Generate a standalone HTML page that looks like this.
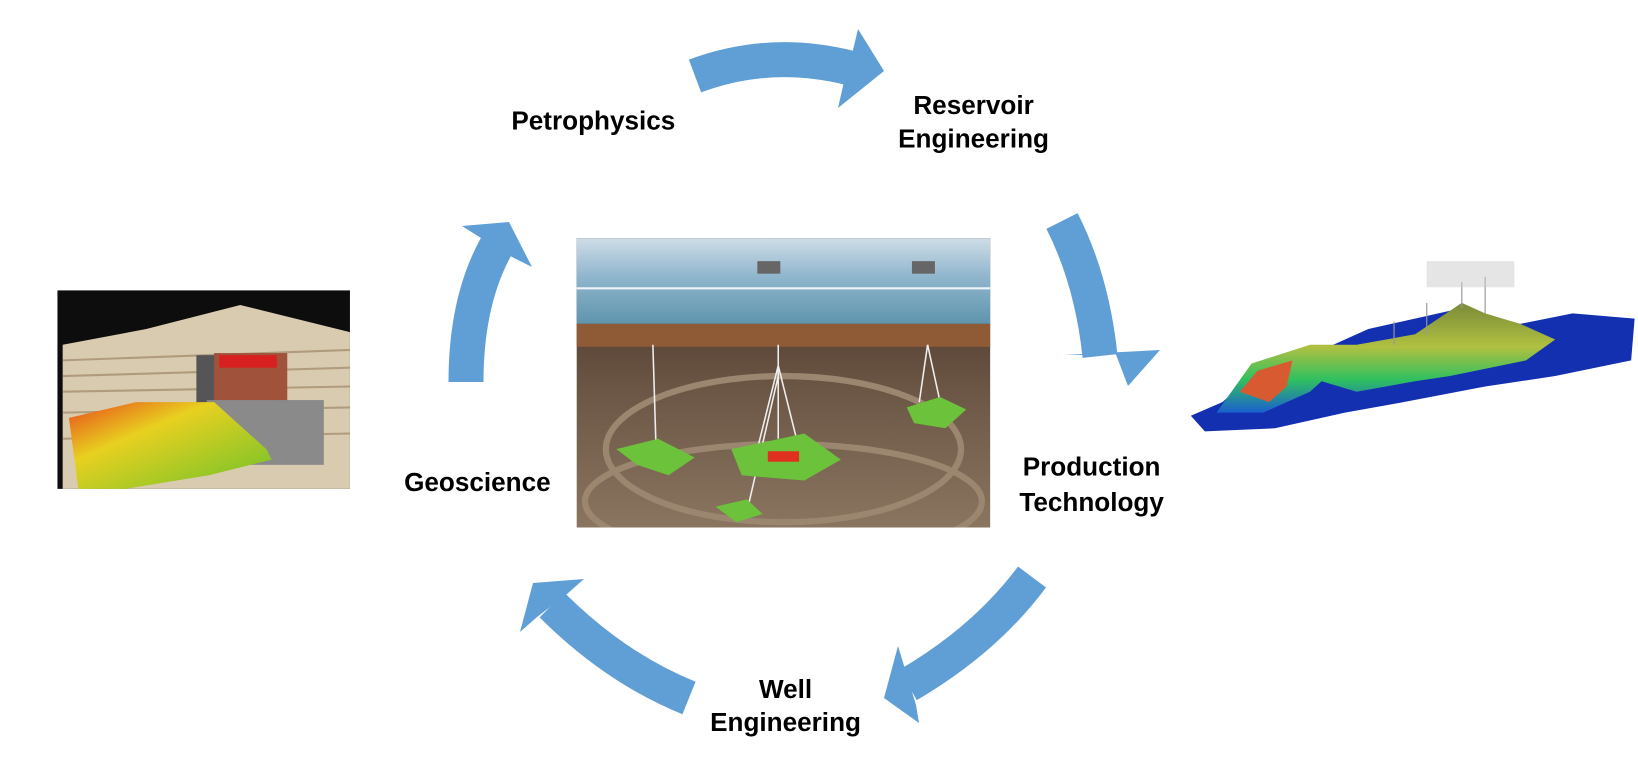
<!DOCTYPE html>
<html><head><meta charset="utf-8"><style>
html,body{margin:0;padding:0;background:#fff;}
svg{display:block;}
text{font-family:"Liberation Sans",Arial,sans-serif;font-weight:bold;font-size:25px;fill:#000;}
</style></head><body>
<svg width="1638" height="782" viewBox="0 0 1638 782">
<defs>
<linearGradient id="sea" x1="0" y1="0" x2="0" y2="1"><stop offset="0" stop-color="#cfdde8"/><stop offset="0.45" stop-color="#8fb6cc"/><stop offset="1" stop-color="#5f95ad"/></linearGradient>
<linearGradient id="under" x1="0" y1="0" x2="0" y2="1"><stop offset="0" stop-color="#3a2a1e"/><stop offset="0.5" stop-color="#6a5444"/><stop offset="1" stop-color="#8a7560"/></linearGradient>
<linearGradient id="terrL" x1="0" y1="0" x2="1" y2="1"><stop offset="0" stop-color="#e84a1a"/><stop offset="0.35" stop-color="#e8d020"/><stop offset="1" stop-color="#6ac22a"/></linearGradient>
<linearGradient id="terrR" x1="0" y1="0" x2="0" y2="1"><stop offset="0" stop-color="#7a8a3a"/><stop offset="0.4" stop-color="#b0c040"/><stop offset="0.7" stop-color="#30c060"/><stop offset="1" stop-color="#1a60d0"/></linearGradient>
<clipPath id="cc"><rect x="552" y="228" width="396" height="277"/></clipPath>
</defs>

<g fill="none" stroke="#5f9fd6" stroke-width="35">
<path d="M695,76 Q770,48 850,68"/>
<path d="M1062,221 Q1092,280 1100,356"/>
<path d="M1032,577 Q985,640 908,685"/>
<path d="M689,698 Q615,668 552,605"/>
<path d="M466,382 Q466,300 497,245"/>
</g>
<g fill="#5f9fd6">
<polygon points="858,29 884,71 838,108 843,86 853,50"/>
<polygon points="1064,355 1160,350 1128,386 1115,352 1087,355"/>
<polygon points="898,646 884,698 919,723 916,705 905,669"/>
<polygon points="584,579 533,583 520,632 537,617 567,594"/>
<polygon points="462,226 509,222 532,267 512,257 481,238"/>
</g>

<g transform="scale(1.0446)">
<g transform="translate(1140,0) scale(1.118,1) translate(-1188,0)">
<polygon points="1188,398 1215,385 1240,360 1300,335 1340,315 1420,295 1470,310 1515,300 1568,305 1565,345 1500,360 1440,370 1370,385 1320,395 1260,410 1200,413" fill="#1230b0"/>
<polygon points="1210,395 1240,348 1290,330 1330,330 1380,320 1420,290 1440,300 1470,310 1500,325 1475,345 1410,360 1380,365 1330,375 1300,365 1290,375 1250,395" fill="url(#terrR)"/>
<polygon points="1230,375 1245,355 1275,345 1270,370 1255,385" fill="#d85a30"/>
<g stroke="#999" stroke-width="1"><line x1="1362" y1="308" x2="1362" y2="330"/><line x1="1390" y1="290" x2="1390" y2="320"/><line x1="1420" y1="270" x2="1420" y2="295"/><line x1="1440" y1="265" x2="1440" y2="300"/></g>
<rect x="1390" y="250" width="75" height="25" fill="#ccc" opacity="0.5"/>
</g>

<text x="568" y="124" text-anchor="middle">Petrophysics</text>
<text x="932" y="109" text-anchor="middle"><tspan x="932">Reservoir</tspan><tspan x="932" dy="32">Engineering</tspan></text>
<text x="1045" y="455" text-anchor="middle"><tspan x="1045">Production</tspan><tspan x="1045" dy="34">Technology</tspan></text>
<text x="752" y="668" text-anchor="middle"><tspan x="752">Well</tspan><tspan x="752" dy="32">Engineering</tspan></text>
<text x="457" y="470" text-anchor="middle">Geoscience</text>

<g>
<rect x="55" y="278" width="280" height="190" fill="#0d0d0d"/>
<polygon points="60,330 140,315 230,292 335,318 335,468 60,468" fill="#d9cbb0"/>
<g stroke="#a08868" stroke-width="2" opacity="0.7">
<line x1="60" y1="345" x2="335" y2="335"/><line x1="60" y1="360" x2="335" y2="352"/><line x1="60" y1="375" x2="335" y2="370"/><line x1="60" y1="395" x2="335" y2="390"/><line x1="60" y1="420" x2="335" y2="415"/>
</g>
<rect x="188" y="340" width="30" height="60" fill="#555"/>
<rect x="205" y="338" width="70" height="65" fill="#a0523a"/>
<rect x="210" y="340" width="55" height="12" fill="#d82020"/>
<rect x="198" y="383" width="112" height="62" fill="#8a8a8a"/>
<polygon points="66,400 130,385 205,385 255,430 260,440 200,455 120,468 75,468" fill="url(#terrL)"/>
</g>

<g clip-path="url(#cc)">
<rect x="552" y="228" width="396" height="277" fill="url(#under)"/>
<rect x="552" y="228" width="396" height="82" fill="url(#sea)"/>
<line x1="552" y1="276" x2="948" y2="276" stroke="#eef4f8" stroke-width="2"/>
<rect x="552" y="310" width="396" height="22" fill="#8f5a36"/>
<rect x="725" y="250" width="22" height="12" fill="#666"/><rect x="873" y="250" width="22" height="12" fill="#666"/>
<ellipse cx="750" cy="430" rx="170" ry="70" fill="none" stroke="#9b8670" stroke-width="6"/>
<ellipse cx="750" cy="480" rx="190" ry="55" fill="none" stroke="#9b8670" stroke-width="6"/>
<g stroke="#eee" stroke-width="1.5" fill="none">
<path d="M625,330 L628,428"/><path d="M745,330 L745,420 M745,350 L725,430 M745,350 L765,430 M745,360 L715,490"/><path d="M888,330 L880,385 M888,330 L900,385"/>
</g>
<polygon points="590,430 630,420 665,438 640,455 610,445" fill="#6cc23a"/>
<polygon points="700,430 770,415 805,440 770,460 710,455" fill="#6cc23a"/>
<rect x="735" y="432" width="30" height="10" fill="#e03020"/>
<polygon points="868,390 900,380 925,392 905,410 875,405" fill="#6cc23a"/>
<polygon points="685,485 715,478 730,492 705,500" fill="#6cc23a"/>
</g>
</g>
</svg>
</body></html>
